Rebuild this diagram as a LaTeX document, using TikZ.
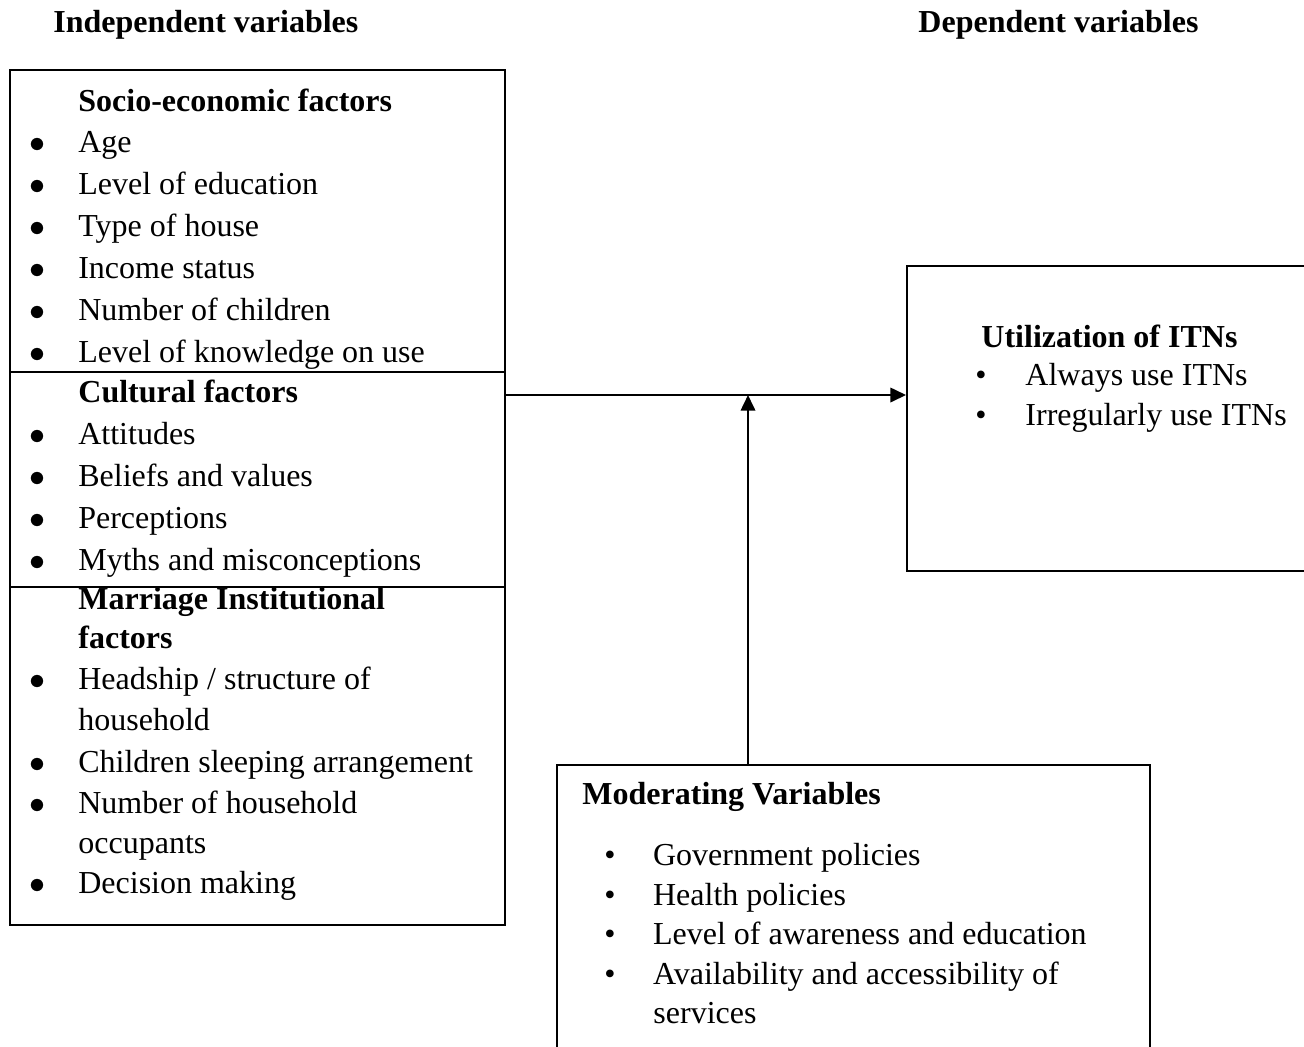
\documentclass[tikz,border=0pt]{standalone}
\usepackage{fontspec}
\setmainfont{Liberation Serif}
\usetikzlibrary{arrows.meta}
\usetikzlibrary{fit}

\tikzset{
  item/.style={anchor=base west, inner sep=0pt},
  head/.style={item, font=\fontsize{14.4}{17}\bfseries},
  bigdot/.style={item, execute at begin node={\makebox[22pt][l]{$\bullet$}}},
  smalldot/.style={item, execute at begin node={\makebox[#1][l]{•}}},
  boxsec/.style={draw, line width=0.9pt, inner sep=0pt, fit={#1}},
  arr/.style={line width=0.9pt, -{Triangle[length=7pt,width=6.5pt]}}
}

\begin{document}
\begin{tikzpicture}[x=0.45pt, y=-0.45pt, font=\fontsize{14.4}{17}\selectfont]
        \useasboundingbox (0,0) rectangle (1304,1046);
        \clip (0,0) rectangle (1304,1046);

        % column titles
        \node[head] (indephead) at (53,32) {Independent variables};
        \node[head] (dephead) at (918,32) {Dependent variables};

        % independent variables
        \node[boxsec={(10,70) (505,372)}] (socio) {};
        \node[boxsec={(10,372) (505,587)}] (cult) {};
        \node[boxsec={(10,587) (505,925)}] (marr) {};

        \node[head] (sochead) at (78,111) {Socio-economic factors};
        \node[bigdot] (s1) at (29,152) {Age};
        \node[bigdot] (s2) at (29,194) {Level of education};
        \node[bigdot] (s3) at (29,236) {Type of house};
        \node[bigdot] (s4) at (29,278) {Income status};
        \node[bigdot] (s5) at (29,320) {Number of children};
        \node[bigdot] (s6) at (29,362) {Level of knowledge on use};

        \node[head] (culhead) at (78,402) {Cultural factors};
        \node[bigdot] (c1) at (29,444) {Attitudes};
        \node[bigdot] (c2) at (29,486) {Beliefs and values};
        \node[bigdot] (c3) at (29,528) {Perceptions};
        \node[bigdot] (c4) at (29,570) {Myths and misconceptions};

        \node[head] (marhead) at (78,609) {Marriage Institutional};
        \node[head] (marhead2) at (78,648) {factors};
        \node[bigdot] (m1) at (29,689) {Headship / structure of};
        \node[item] (m1b) at (78,730) {household};
        \node[bigdot] (m2) at (29,772) {Children sleeping arrangement};
        \node[bigdot] (m3) at (29,813) {Number of household};
        \node[item] (m3b) at (78,853) {occupants};
        \node[bigdot] (m4) at (29,893) {Decision making};

        % dependent variable
        \node[boxsec={(907,266) (1330,571)}] (dep) {};
        \node[head] (dephead2) at (981,347) {Utilization of ITNs};
        \node[smalldot=22.5pt] (d1) at (975,385) {Always use ITNs};
        \node[smalldot=22.5pt] (d2) at (975,425) {Irregularly use ITNs};

        % moderating variables
        \node[boxsec={(557,765) (1150,1080)}] (moder) {};
        \node[head] (modhead) at (582,804) {Moderating Variables};
        \node[smalldot=21.9pt] (v1) at (604,865) {Government policies};
        \node[smalldot=21.9pt] (v2) at (604,905) {Health policies};
        \node[smalldot=21.9pt] (v3) at (604,944) {Level of awareness and education};
        \node[smalldot=21.9pt] (v4) at (604,984) {Availability and accessibility of};
        \node[item] (v4b) at (653,1023) {services};

        % connectors
        \coordinate (meet) at (748,395);
        \draw[arr] (meet -| cult.east) -- (meet -| dep.west);
        \draw[arr] (moder.north -| meet) -- (meet);
    \end{tikzpicture}
\end{document}
